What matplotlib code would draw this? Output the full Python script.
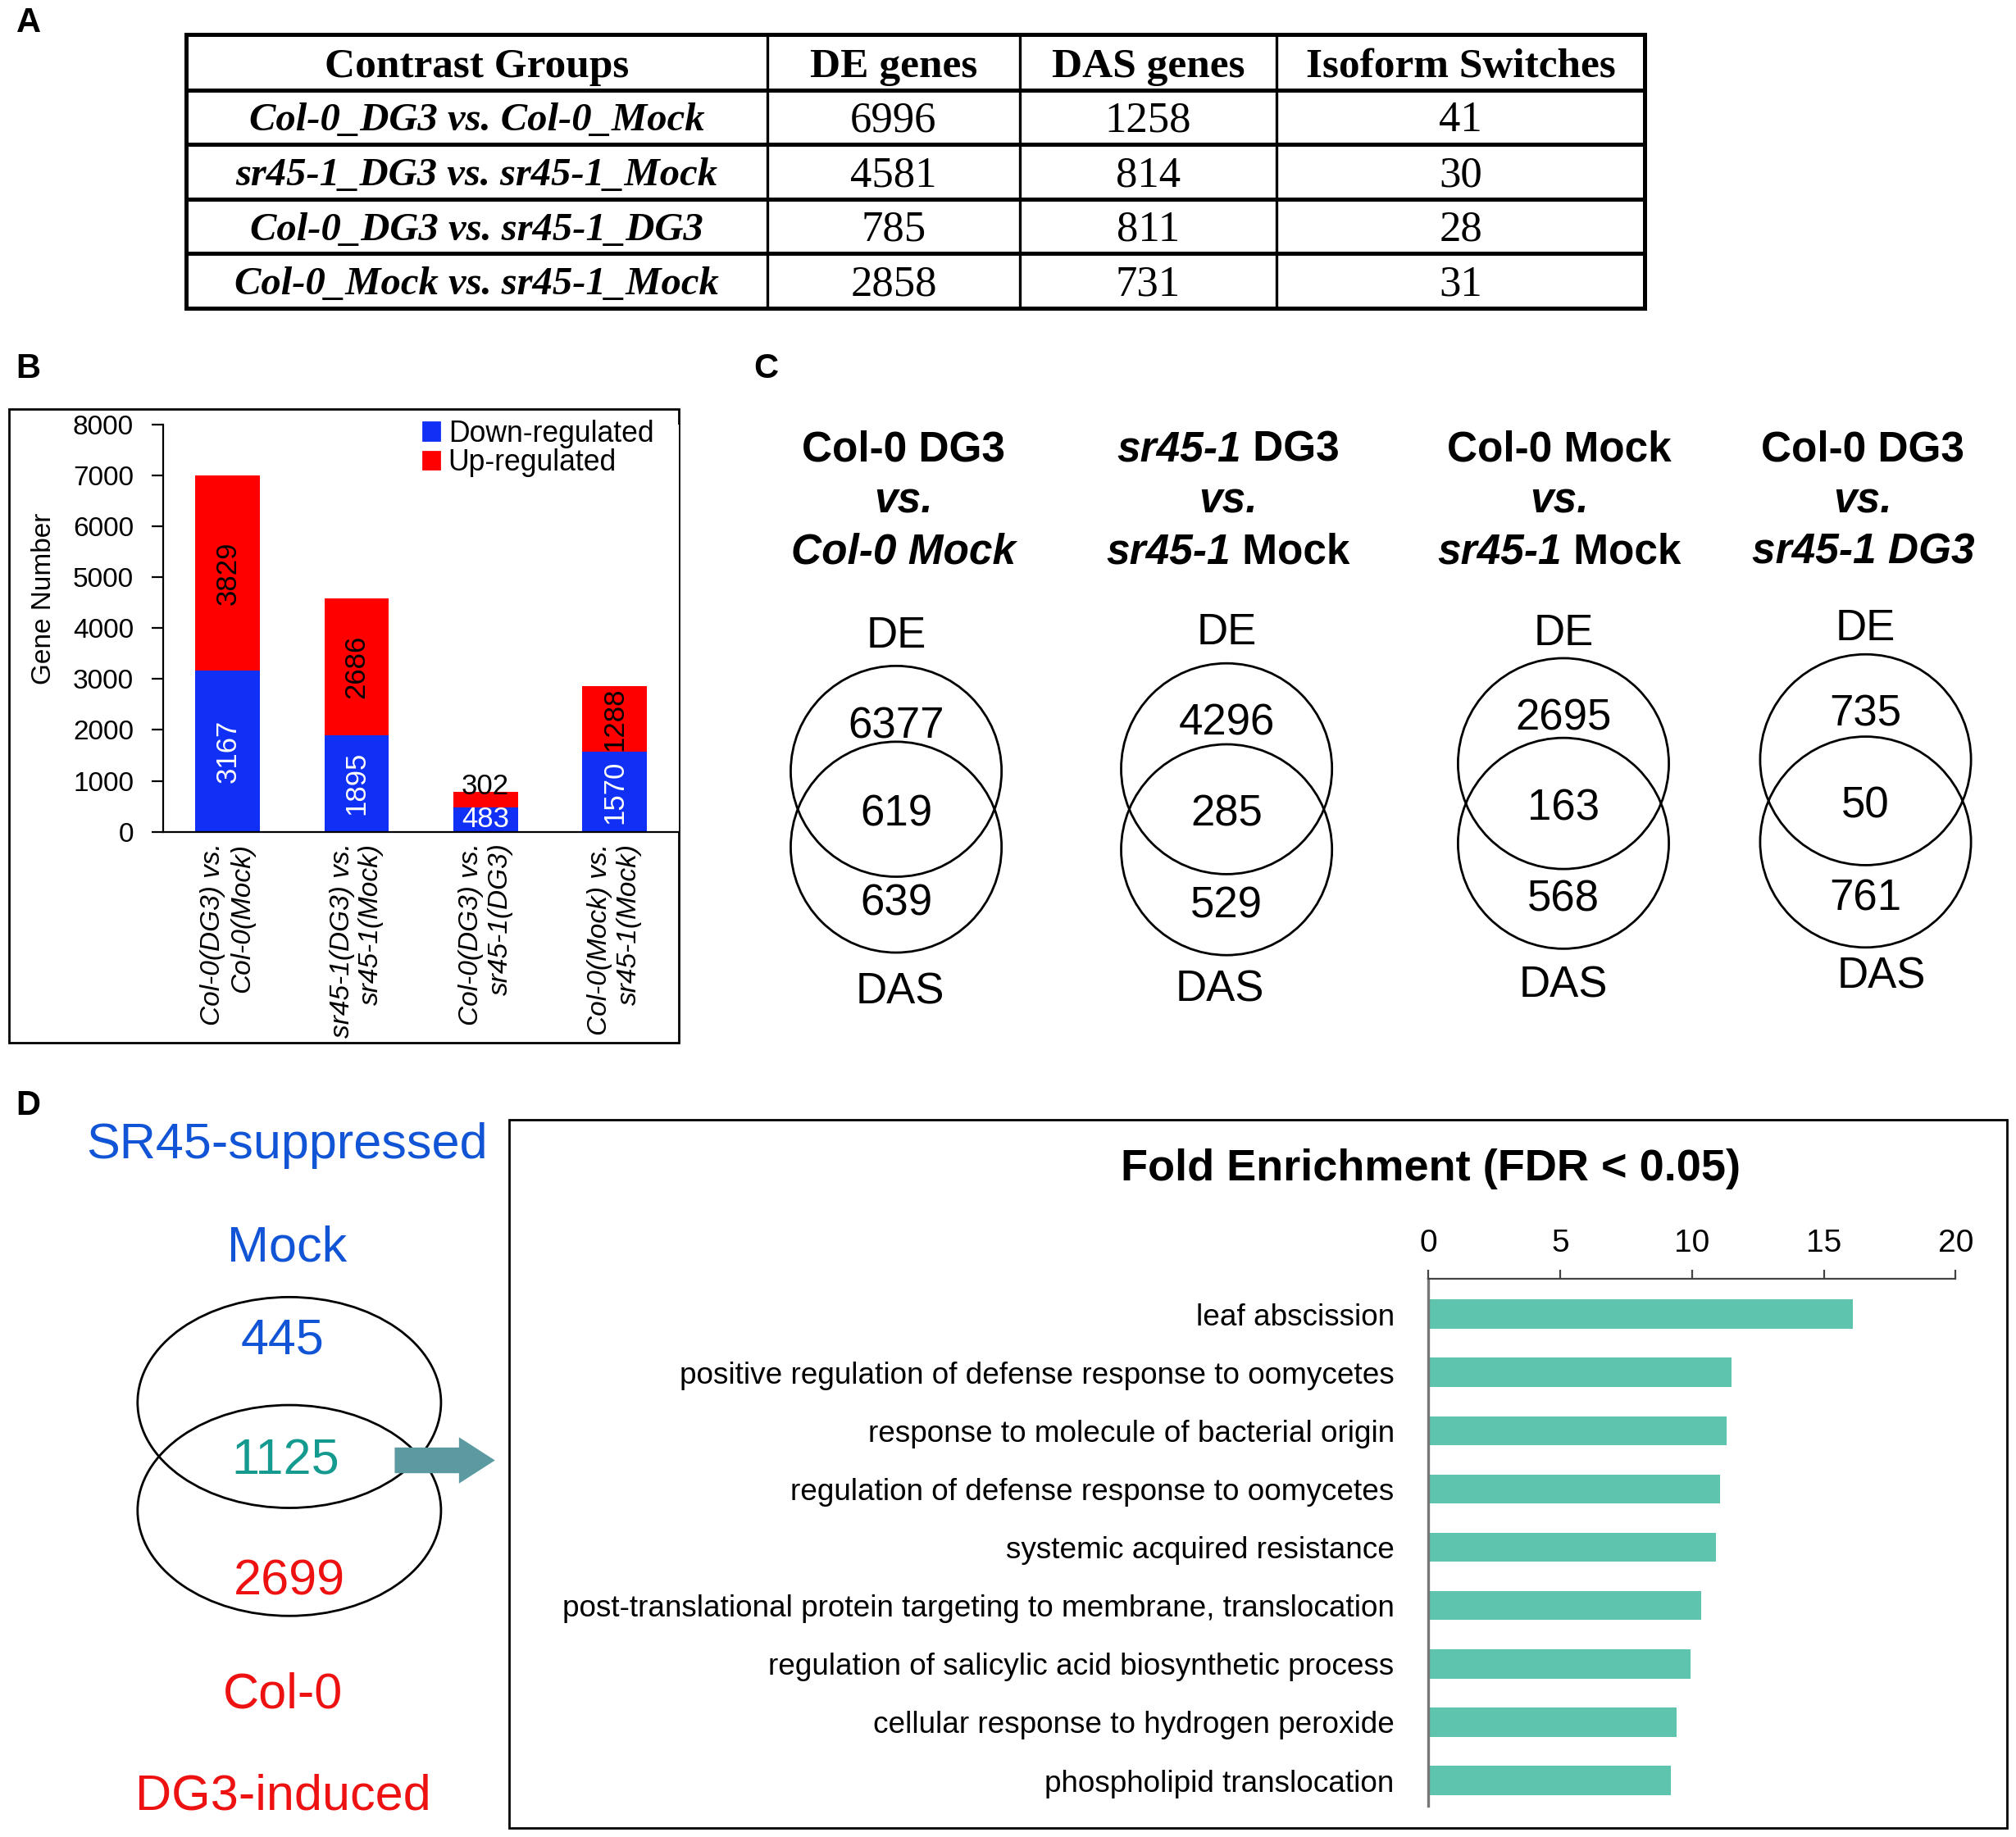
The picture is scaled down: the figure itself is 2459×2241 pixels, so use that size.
import matplotlib
matplotlib.use("Agg")
import matplotlib.pyplot as plt
from matplotlib.patches import Rectangle, Circle, Ellipse, Patch, FancyArrow

# ---- data ----
table_header = ["Contrast Groups", "DE genes", "DAS genes", "Isoform Switches"]
table_groups = ["Col-0_DG3 vs. Col-0_Mock", "sr45-1_DG3 vs. sr45-1_Mock",
                "Col-0_DG3 vs. sr45-1_DG3", "Col-0_Mock vs. sr45-1_Mock"]
de_genes = [6996, 4581, 785, 2858]
das_genes = [1258, 814, 811, 731]
iso_switches = [41, 30, 28, 31]

bar_labels = ["Col-0(DG3) vs.\nCol-0(Mock)", "sr45-1(DG3) vs.\nsr45-1(Mock)",
              "Col-0(DG3) vs.\nsr45-1(DG3)", "Col-0(Mock) vs.\nsr45-1(Mock)"]
down_reg = [3167, 1895, 483, 1570]
up_reg = [3829, 2686, 302, 1288]

# each title line is a list of (text, italic) pieces, all bold
venn_titles = [
    [[("Col-0 DG3", False)], [("vs.", True)], [("Col-0 Mock", True)]],
    [[("sr45-1", True), (" DG3", False)], [("vs.", True)], [("sr45-1", True), (" Mock", False)]],
    [[("Col-0 Mock", False)], [("vs.", True)], [("sr45-1", True), (" Mock", False)]],
    [[("Col-0 DG3", False)], [("vs.", True)], [("sr45-1 DG3", True)]],
]
venn_de_only = [6377, 4296, 2695, 735]
venn_both = [619, 285, 163, 50]
venn_das_only = [639, 529, 568, 761]

sr45_mock_only = 445
sr45_shared = 1125
sr45_col_only = 2699

go_terms = ["leaf abscission",
            "positive regulation of defense response to oomycetes",
            "response to molecule of bacterial origin",
            "regulation of defense response to oomycetes",
            "systemic acquired resistance",
            "post-translational protein targeting to membrane, translocation",
            "regulation of salicylic acid biosynthetic process",
            "cellular response to hydrogen peroxide",
            "phospholipid translocation"]
fold_enrich = [16.1, 11.5, 11.3, 11.05, 10.9, 10.35, 9.95, 9.4, 9.2]

# ---- layout (reference pixel grid) ----
W, H = 1568, 1429
plt.rcParams['font.family'] = ['Liberation Sans', 'DejaVu Sans']

fig = plt.figure(figsize=(12.295, 11.205), dpi=200)
ax = fig.add_axes([0, 0, 1, 1])
ax.set_xlim(0, W)
ax.set_ylim(H, 0)
ax.axis("off")
renderer = fig.canvas.get_renderer()
px_scale = W / (12.295 * 200)  # data units per rendered pixel


def frac(x0, y0, x1, y1):
    return [x0 / W, 1 - y1 / H, (x1 - x0) / W, (y1 - y0) / H]


def mixed_text(xc, yc, pieces, size):
    # draw pieces of differing style side by side, centred on xc
    texts = []
    total = 0
    for s, it in pieces:
        t = ax.text(0, yc, s, fontsize=size, fontweight="bold",
                    style="italic" if it else "normal", ha="left", va="center")
        w = t.get_window_extent(renderer).width * px_scale
        texts.append((t, w))
        total += w
    x = xc - total / 2
    for t, w in texts:
        t.set_x(x)
        x += w


# panel letters
for lab, x, y in [("A", 22, 18), ("B", 22, 287), ("C", 596, 287), ("D", 22, 860)]:
    ax.text(x, y, lab, fontsize=15, fontweight="bold", ha="center", va="center")

# ---- A: table ----
col_x = [145, 597, 793, 993, 1279]
row_y = [27, 70, 112, 155, 197, 240]
for y in row_y:
    ax.plot([col_x[0], col_x[-1]], [y, y], color="black", lw=1.8, solid_capstyle="projecting")
for x in col_x:
    ax.plot([x, x], [row_y[0], row_y[-1]], color="black", lw=1.8 if x in (145, 1279) else 1.2)
serif = ['Liberation Serif', 'DejaVu Serif']
for j, h in enumerate(table_header):
    ax.text((col_x[j] + col_x[j + 1]) / 2, (row_y[0] + row_y[1]) / 2 + 4, h,
            fontsize=18.5, fontweight="bold", family=serif, ha="center", va="center")
for i in range(4):
    yc = (row_y[i + 1] + row_y[i + 2]) / 2 + 3
    ax.text((col_x[0] + col_x[1]) / 2, yc, table_groups[i], fontsize=17.5, fontweight="bold",
            style="italic", family=serif, ha="center", va="center")
    for j, v in enumerate([de_genes[i], das_genes[i], iso_switches[i]]):
        ax.text((col_x[j + 1] + col_x[j + 2]) / 2, yc, str(v), fontsize=19,
                family=serif, ha="center", va="center")

# ---- B: stacked bar ----
ax.add_patch(Rectangle((7, 318), 521, 493, fill=False, lw=1.0, ec="black"))
axb = fig.add_axes(frac(127, 330, 528, 647))
xs = range(len(bar_labels))
blue, red = "#1030f5", "#ff0000"
axb.bar(xs, down_reg, width=0.5, color=blue, label="Down-regulated")
axb.bar(xs, up_reg, width=0.5, bottom=down_reg, color=red, label="Up-regulated")
axb.set_xlim(-0.5, 3.5)
axb.set_ylim(0, 8000)
axb.set_yticks(range(0, 8001, 1000))
axb.set_xticks(list(xs))
axb.set_xticklabels(bar_labels, rotation=90, style="italic", fontsize=12,
                    ha="center", va="top", multialignment="right")
axb.tick_params(axis="x", length=0, pad=5)
axb.tick_params(axis="y", labelsize=12, length=5, width=0.8, direction="out", pad=8)
axb.spines["top"].set_visible(False)
axb.spines["right"].set_visible(False)
axb.set_ylabel("Gene Number", fontsize=12)
axb.yaxis.set_label_coords(-0.207, 0.571)
for i in xs:
    d, u = down_reg[i], up_reg[i]
    if d + u < 1000:
        axb.text(i, d / 2, str(d), color="white", fontsize=12.5, ha="center", va="center")
        axb.text(i, d + u + 100, str(u), color="black", fontsize=12.5, ha="center", va="center")
    else:
        axb.text(i, d / 2, str(d), color="white", fontsize=12.5, ha="center", va="center", rotation=90)
        axb.text(i, d + u / 2, str(u), color="black", fontsize=12.5, ha="center", va="center", rotation=90)
axb.legend(handles=[Patch(color=blue, label="Down-regulated"), Patch(color=red, label="Up-regulated")],
           loc="upper right", bbox_to_anchor=(0.985, 1.055), frameon=False, fontsize=12.8,
           handlelength=0.55, handleheight=0.55, handletextpad=0.3, labelspacing=0.02, borderaxespad=0.2)

# ---- C: Venn diagrams ----
venn_cx = [697, 954, 1216, 1451]
top_cy = [600, 598, 594, 591]
bot_cy = [659, 661, 656, 655]
title_x = [703, 955, 1213, 1449]
de_y = [493, 490, 491, 487]
das_pos = [(700, 770), (949, 768), (1216, 765), (1463, 758)]
for k in range(4):
    for line, ty in zip(venn_titles[k], [350, 390, 430]):
        mixed_text(title_x[k], ty, line, 18.5)
    ax.add_patch(Circle((venn_cx[k], top_cy[k]), 82, fill=False, lw=1.0, ec="black"))
    ax.add_patch(Circle((venn_cx[k], bot_cy[k]), 82, fill=False, lw=1.0, ec="black"))
    ax.text(venn_cx[k], de_y[k] + 2, "DE", fontsize=19, ha="center", va="center")
    ax.text(venn_cx[k], top_cy[k] - 35, str(venn_de_only[k]), fontsize=19, ha="center", va="center")
    ax.text(venn_cx[k], (top_cy[k] + bot_cy[k]) / 2 + 4, str(venn_both[k]), fontsize=19, ha="center", va="center")
    ax.text(venn_cx[k], bot_cy[k] + 44, str(venn_das_only[k]), fontsize=19, ha="center", va="center")
    ax.text(das_pos[k][0], das_pos[k][1] + 2, "DAS", fontsize=19, ha="center", va="center")

# ---- D: SR45 Venn + GO enrichment ----
dblue, dred, dteal = "#1155d6", "#ee1111", "#149a8e"
ax.text(223, 891, "SR45-suppressed", fontsize=22, color=dblue, ha="center", va="center")
ax.text(223, 971, "Mock", fontsize=22, color=dblue, ha="center", va="center")
ax.add_patch(Ellipse((225, 1091), 236, 164, fill=False, lw=1.0, ec="black"))
ax.add_patch(Ellipse((225, 1175), 236, 164, fill=False, lw=1.0, ec="black"))
ax.text(220, 1043, str(sr45_mock_only), fontsize=22, color=dblue, ha="center", va="center")
ax.text(222, 1137, str(sr45_shared), fontsize=22, color=dteal, ha="center", va="center")
ax.text(225, 1231, str(sr45_col_only), fontsize=22, color=dred, ha="center", va="center")
ax.text(220, 1319, "Col-0", fontsize=22, color=dred, ha="center", va="center")
ax.text(220, 1398, "DG3-induced", fontsize=22, color=dred, ha="center", va="center")
ax.add_patch(FancyArrow(307, 1136, 50, 0, width=20, head_width=36, head_length=28,
                        length_includes_head=False, color="#5b9aa0", lw=0))

ax.add_patch(Rectangle((396, 871), 1165, 551, fill=False, lw=1.0, ec="black"))
ax.text(1113, 909, "Fold Enrichment (FDR < 0.05)", fontsize=19.5, fontweight="bold",
        ha="center", va="center")
axd = fig.add_axes(frac(1111, 995, 1521, 1405))
axd.barh(range(len(go_terms)), fold_enrich, height=0.5, color="#5ec4ad")
axd.set_xlim(0, 20)
axd.set_ylim(8.44, -0.6)
axd.set_xticks([0, 5, 10, 15, 20])
axd.xaxis.tick_top()
axd.tick_params(axis="x", labelsize=14, length=4, width=0.8, color="#444444", pad=5)
axd.set_yticks(range(len(go_terms)))
axd.set_yticklabels(go_terms, fontsize=13.3)
axd.tick_params(axis="y", length=0, pad=15)
for s in ["right", "bottom"]:
    axd.spines[s].set_visible(False)
axd.spines["top"].set_color("#444444")
axd.spines["top"].set_linewidth(0.8)
axd.spines["left"].set_color("#777777")
axd.spines["left"].set_linewidth(1.2)

fig.savefig("out.png", dpi=200)
